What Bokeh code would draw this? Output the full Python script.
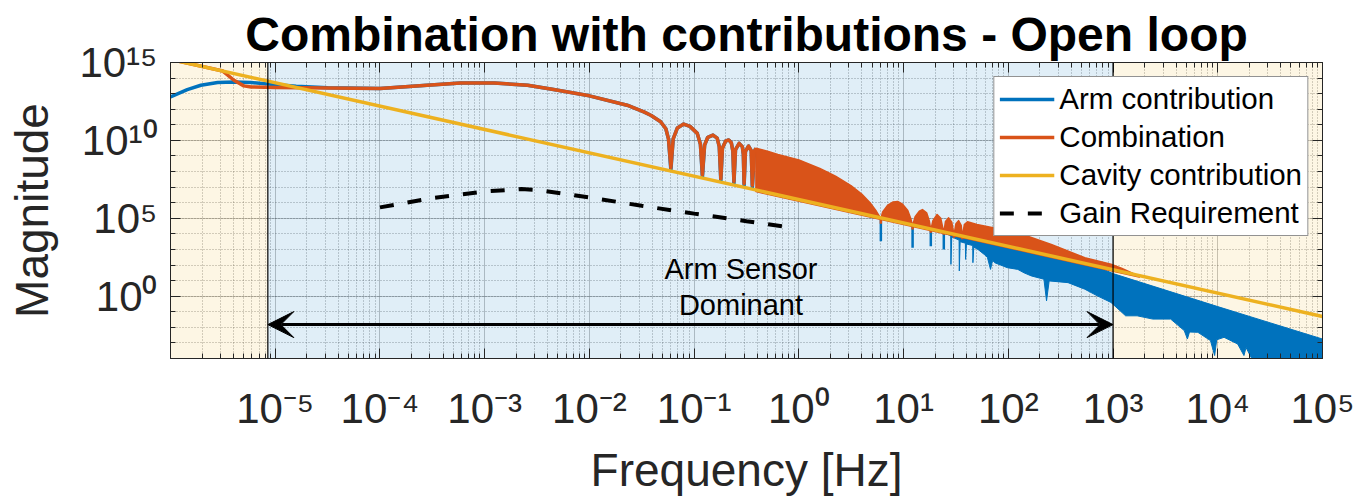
import numpy as np
from bokeh.plotting import figure
from bokeh.models import (FixedTicker, LogAxis, CustomJSTickFormatter, Span, Arrow,
                          VeeHead, Label, Legend, LegendItem)
from bokeh.embed import file_html
from bokeh.resources import INLINE

# ---------------------------------------------------------------- data
f_limits = [1e-6, 1e5]        # Hz
mag_limits = [1e-4, 1e15]

x_ticks = [1e-5, 1e-4, 1e-3, 1e-2, 1e-1, 1e0, 1e1, 1e2, 1e3, 1e4, 1e5]
x_tick_labels = ["10⁻⁵", "10⁻⁴", "10⁻³", "10⁻²", "10⁻¹", "10⁰",
                 "10¹", "10²", "10³", "10⁴", "10⁵"]
y_ticks = [1e0, 1e5, 1e10, 1e15]
y_tick_labels = ["10⁰", "10⁵", "10¹⁰", "10¹⁵"]

# frequency bands: cavity | arm sensor dominant | cavity
band_edges = [1e-6, 8.5e-6, 1e3, 1e5]

# curve coordinates are given in decades (log10 of Hz, log10 of magnitude)
cav_f_dec = [-6.0, 5.0]
cav_mag_dec = [15.2, -1.3]

gain_f_dec = [-4.0, -3.5, -3.0, -2.65, -2.5, -2.0, -1.5, -1.0, -0.5, -0.1]
gain_mag_dec = [5.70, 6.30, 6.72, 6.88, 6.82, 6.34, 5.80, 5.30, 4.81, 4.43]

comb_f_dec = [-6.0, -5.5, -5.394, -5.3, -5.23, -5.0, -4.5, -4.0, -3.55, -3.23,
              -2.91, -2.59, -2.37, -2.0, -1.64, -1.48, -1.41, -1.32, -1.27, -1.245,
              -1.222, -1.20, -1.16, -1.10, -1.04, -0.97, -0.94, -0.921,
              -0.90, -0.87, -0.82, -0.78, -0.76, -0.745,
              -0.73, -0.70, -0.67, -0.645, -0.63, -0.620,
              -0.605, -0.57, -0.54, -0.53, -0.523,
              -0.51, -0.48, -0.455, -0.444, -0.425, -0.41]
comb_mag_dec = [15.2, 14.45, 13.86, 13.5, 13.43, 13.40, 13.36, 13.33, 13.54, 13.68,
                13.68, 13.54, 13.30, 12.86, 12.26, 11.83, 11.6, 11.2, 10.75, 10.1,
                8.25, 10.1, 10.8, 11.05, 10.9, 10.45, 9.75, 7.8,
                9.7, 10.2, 10.34, 10.15, 9.6, 7.55,
                9.5, 9.95, 10.03, 9.85, 9.3, 7.37,
                9.4, 9.81, 9.6, 9.1, 7.23,
                9.3, 9.64, 9.35, 7.12, 9.3, 9.5]

arm_f_dec = [-6.0, -5.84, -5.71, -5.55, -5.39, -5.23, -5.07, -4.8, -4.5, -4.0, -3.55, -3.23,
             -2.91, -2.59, -2.37, -2.0, -1.64, -1.48, -1.41, -1.32, -1.27, -1.245,
             -1.222, -1.20, -1.16, -1.10, -1.04, -0.97, -0.94, -0.921,
             -0.90, -0.87, -0.82, -0.78, -0.76, -0.745,
             -0.73, -0.70, -0.67, -0.645, -0.63, -0.620,
             -0.605, -0.57, -0.54, -0.53, -0.523,
             -0.51, -0.48, -0.455, -0.444, -0.425, -0.41]
arm_mag_dec = [12.79, 13.26, 13.54, 13.71, 13.75, 13.71, 13.62, 13.48, 13.38, 13.33, 13.54, 13.68,
               13.68, 13.54, 13.30, 12.86, 12.26, 11.83, 11.6, 11.2, 10.75, 10.1,
               8.08, 10.1, 10.8, 11.05, 10.9, 10.45, 9.75, 7.63,
               9.7, 10.2, 10.34, 10.15, 9.6, 7.38,
               9.5, 9.95, 10.03, 9.85, 9.3, 7.2,
               9.4, 9.81, 9.6, 9.1, 7.06,
               9.3, 9.64, 9.35, 6.95, 9.3, 9.5]

# dense comb of the combination: upper envelope and floor
comb_top_f_dec = [-0.41, -0.3, -0.2, 0.0, 0.2, 0.35, 0.497, 0.6, 0.68, 0.74, 0.783,
                  0.80, 0.85, 0.90, 0.943, 0.99, 1.04, 1.07, 1.086,
                  1.11, 1.15, 1.18, 1.22, 1.245, 1.26,
                  1.28, 1.32, 1.355, 1.384,
                  1.40, 1.43, 1.46, 1.481,
                  1.50, 1.525, 1.55, 1.561,
                  1.58, 1.61, 1.70, 2.09, 2.41, 2.73, 2.98, 3.08, 3.18, 3.25]
comb_top_mag_dec = [9.5, 9.3, 9.1, 8.75, 8.2, 7.7, 7.1, 6.55, 6.0, 5.45, 4.98,
                    5.4, 5.85, 6.05, 6.08, 5.9, 5.5, 4.95, 4.52,
                    5.1, 5.45, 5.56, 5.35, 4.85, 4.26,
                    4.85, 5.24, 5.0, 4.07,
                    4.8, 5.03, 4.75, 3.93,
                    4.65, 4.85, 4.55, 3.81,
                    4.6, 4.78, 4.6, 4.07, 3.32, 2.47, 2.05, 1.8, 1.5, 1.22]
comb_floor_f_dec = [3.25, -0.41]
comb_floor_mag_dec = [1.225, 6.715]

# notches of the 6 Hz comb reaching below the cavity line
notch_f_dec = [0.783, 1.086, 1.26, 1.384, 1.481, 1.561]
notch_top_dec = [4.98, 4.52, 4.26, 4.07, 3.93, 3.81]
comb_notch_dec = [4.65, 4.28, 4.07, 3.95, 3.75, 3.65]
arm_notch_dec = [3.53, 3.11, 3.21, 3.0, 3.8, 3.7]

# high-frequency arm contribution: upper edge and ragged floor
arm_top_f_dec = [1.40, 2.9, 3.0, 4.0, 5.0]
arm_top_mag_dec = [4.0, 1.75, 1.45, -0.67, -2.75]
arm_floor_f_dec = [1.40, 1.45, 1.452, 1.46, 1.53, 1.532, 1.54, 1.59, 1.592, 1.60, 1.66,
                   1.662, 1.67, 1.71, 1.77, 1.80, 1.83, 1.85, 1.87, 1.99, 2.09, 2.15,
                   2.22, 2.34, 2.365, 2.39, 2.57, 2.73, 2.85, 2.98, 3.12, 3.23, 3.38,
                   3.55, 3.68, 3.71, 3.73, 3.81, 3.93, 3.97, 3.99, 4.06, 4.19, 4.25,
                   4.27, 4.32, 4.40, 5.0]
arm_floor_mag_dec = [4.0, 3.9, 2.04, 3.8, 3.6, 1.62, 3.5, 3.4, 2.36, 3.35, 3.25,
                     2.15, 3.15, 3.0, 2.68, 2.5, 1.72, 2.3, 2.15, 1.83, 1.72, 1.5,
                     1.30, 1.09, -0.30, 0.98, 0.87, 0.45, 0.02, -0.40, -1.26, -1.26, -1.47,
                     -1.47, -2.21, -2.75, -2.3, -2.32, -2.85, -3.81, -2.8, -2.64, -3.07, -3.81,
                     -3.3, -3.95, -4.5, -4.5]

arrow_f = [8.5e-6, 1e3]
arrow_mag = 0.015
note_f = 0.28
note_lines = ["Arm Sensor", "Dominant"]
note_mag = [52.0, 0.27]

title_text = "Combination with contributions - Open loop"
series_labels = ["Arm contribution", "Combination", "Cavity contribution", "Gain Requirement"]

# ---------------------------------------------------------------- style
TXT = "#262626"
FONT = "Liberation Sans"
BLUE, ORANGE, YELLOW = "#0072BD", "#D95319", "#EDB120"
band_colors = [YELLOW, BLUE, YELLOW]


def D(a):
    return 10.0 ** np.asarray(a, dtype=float)


x_minor = [k * 10.0 ** d for d in range(-6, 5) for k in range(2, 10)]
y_minor = [10.0 ** d for d in range(-4, 16)]

p = figure(width=1360, height=499, x_axis_type="log", y_axis_type="log",
           x_range=tuple(f_limits), y_range=tuple(mag_limits),
           output_backend="svg", toolbar_location=None,
           min_border_left=170, min_border_right=38,
           min_border_top=62, min_border_bottom=141,
           background_fill_color="white", border_fill_color="white")
p.outline_line_color = TXT
p.title.text = title_text
p.title.align = "center"
p.title.vertical_align = "top"
p.title.text_font = FONT
p.title.text_font_size = "48px"
p.title.text_font_style = "bold"
p.title.text_color = "black"
p.title.standoff = 0

x_ticker = FixedTicker(ticks=x_ticks, minor_ticks=x_minor)
y_ticker = FixedTicker(ticks=y_ticks, minor_ticks=y_minor)

fmt_code = """
const i = vals.findIndex(v => Math.abs(Math.log10(v) - Math.log10(tick)) < 1e-6);
return i < 0 ? "" : labs[i];
"""
xa, ya = p.xaxis[0], p.yaxis[0]
xa.ticker = x_ticker
ya.ticker = y_ticker
xa.formatter = CustomJSTickFormatter(args=dict(vals=x_ticks, labs=x_tick_labels), code=fmt_code)
ya.formatter = CustomJSTickFormatter(args=dict(vals=y_ticks, labs=y_tick_labels), code=fmt_code)
xa.axis_label = "Frequency [Hz]"
ya.axis_label = "Magnitude"
for ax in (xa, ya):
    ax.major_label_text_font = FONT
    ax.major_label_text_font_size = "42px"
    ax.major_label_text_color = TXT
    ax.axis_label_text_font = FONT
    ax.axis_label_text_font_size = "46px"
    ax.axis_label_text_font_style = "normal"
    ax.axis_label_text_color = TXT
    ax.axis_line_color = TXT
    ax.major_tick_line_color = TXT
    ax.minor_tick_line_color = TXT
    ax.major_tick_in = 10
    ax.major_tick_out = 0
    ax.minor_tick_in = 5
    ax.minor_tick_out = 0
xa.major_label_standoff = 26
xa.axis_label_standoff = 9
ya.major_label_standoff = 13
ya.axis_label_standoff = 18

# tick marks on the opposite sides of the box
for ticker, side in ((x_ticker, "above"), (y_ticker, "right")):
    ax = LogAxis(ticker=ticker, formatter=CustomJSTickFormatter(code="return '';"),
                 major_tick_in=10, major_tick_out=0, minor_tick_in=5, minor_tick_out=0,
                 axis_line_color=TXT, major_tick_line_color=TXT, minor_tick_line_color=TXT,
                 major_label_standoff=0, major_label_text_font_size="0px")
    p.add_layout(ax, side)

for g, t in ((p.xgrid[0], x_ticker), (p.ygrid[0], y_ticker)):
    g.ticker = t
    g.grid_line_color = TXT
    g.grid_line_alpha = 0.28
    g.minor_grid_line_color = TXT
    g.minor_grid_line_alpha = 0.45
    g.minor_grid_line_dash = "1 2"

# shaded frequency bands
p.quad(left=band_edges[:-1], right=band_edges[1:], bottom=mag_limits[0], top=mag_limits[1],
       fill_color=band_colors, fill_alpha=0.12, line_color=None)

# arm contribution
p.patch(D(arm_top_f_dec + arm_floor_f_dec[::-1]), D(arm_top_mag_dec + arm_floor_mag_dec[::-1]),
        fill_color=BLUE, line_color=BLUE, line_width=1)
arm_line = p.line(D(arm_f_dec), D(arm_mag_dec), line_color=BLUE, line_width=3.5, line_join="round")
p.segment(D(notch_f_dec), D(notch_top_dec), D(notch_f_dec), D(arm_notch_dec),
          line_color=BLUE, line_width=2.5)

# combination
comb_line = p.line(D(comb_f_dec), D(comb_mag_dec), line_color=ORANGE, line_width=3.5, line_join="round")
p.patch(D(comb_top_f_dec + comb_floor_f_dec), D(comb_top_mag_dec + comb_floor_mag_dec),
        fill_color=ORANGE, line_color=ORANGE, line_width=1.5, line_join="round")
p.segment(D(notch_f_dec), D(notch_top_dec), D(notch_f_dec), D(comb_notch_dec),
          line_color=ORANGE, line_width=2.5)

# cavity contribution and requirement
cav_line = p.line(D(cav_f_dec), D(cav_mag_dec), line_color=YELLOW, line_width=3.5)
gain_line = p.line(D(gain_f_dec), D(gain_mag_dec), line_color="black", line_width=4,
                   line_dash="14 14")

for edge in band_edges[1:-1]:
    p.add_layout(Span(location=edge, dimension="height", line_color="black", line_width=1.2))

p.add_layout(Arrow(start=VeeHead(size=26, fill_color="black", line_color="black"),
                   end=VeeHead(size=26, fill_color="black", line_color="black"),
                   x_start=arrow_f[0], y_start=arrow_mag, x_end=arrow_f[1], y_end=arrow_mag,
                   line_color="black", line_width=3))

for txt, y in zip(note_lines, note_mag):
    p.add_layout(Label(x=note_f, y=y, text=txt, text_align="center", text_baseline="middle",
                       text_font=FONT, text_font_size="29px", text_color="black"))

legend = Legend(items=[LegendItem(label=lab, renderers=[r]) for lab, r in
                       zip(series_labels, [arm_line, comb_line, cav_line, gain_line])],
                location="top_right", margin=14, padding=5, spacing=4,
                glyph_width=55, glyph_height=30, label_height=30, label_standoff=5,
                label_text_font=FONT, label_text_font_size="29.5px", label_text_color="black",
                border_line_color=TXT, border_line_width=1, background_fill_alpha=1.0)
p.add_layout(legend)

open("out.html", "w").write(file_html(p, INLINE))
